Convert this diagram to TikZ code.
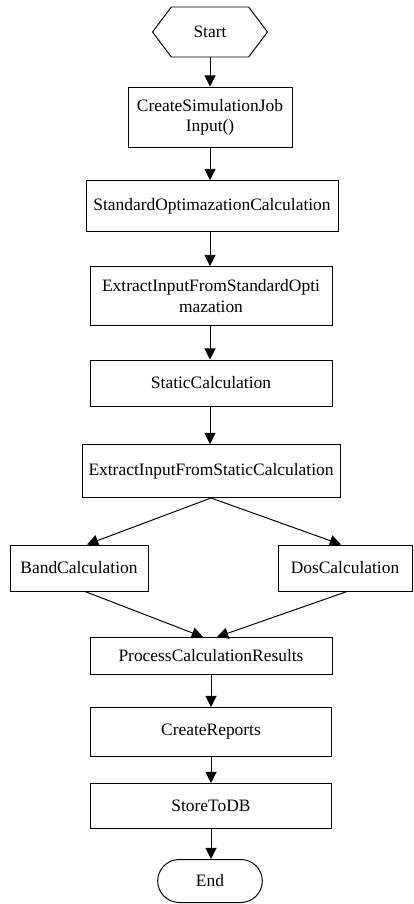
\documentclass[tikz,border=0pt]{standalone}
\usepackage{fontspec}
\setmainfont{Liberation Serif}
\usepackage{tikz}
\usetikzlibrary{shapes,shapes.misc,shapes.symbols,arrows.meta,positioning,calc}

\begin{document}
\begin{tikzpicture}[
        font=\fontsize{12.4}{14.5}\selectfont,
        line width=0.7pt,
        box/.style={draw, rectangle, align=center, inner sep=2pt},
        arr/.style={-{Triangle[width=8pt,length=8pt]}}
    ]
        \useasboundingbox (0,0) rectangle (10.325,-22.6);

        % Start and first steps
        \node[draw, signal, signal to=west and east, signal pointer angle=106,
              minimum width=2.875cm, minimum height=1.25cm] (start) at (5.25,-0.8) {Start};
        \node[box, minimum width=4.1cm, minimum height=1.5cm] (job) at (5.25,-2.925) {CreateSimulationJob\\Input()};
        \node[box, minimum width=6.3cm, minimum height=1.275cm] (stdopt) at (5.3,-5.15) {StandardOptimazationCalculation};
        \node[box, minimum width=6.05cm, minimum height=1.475cm] (extstd) at (5.275,-7.4) {ExtractInputFromStandardOpti\\mazation};
        \node[box, minimum width=6.05cm, minimum height=1.15cm] (static) at (5.275,-9.575) {StaticCalculation};
        \node[box, minimum width=6.45cm, minimum height=1.325cm] (extstatic) at (5.275,-11.775) {ExtractInputFromStaticCalculation};

        % Two branches
        \node[box, minimum width=3.45cm, minimum height=1.15cm] (band) at (1.975,-14.2) {BandCalculation};
        \node[box, minimum width=3.35cm, minimum height=1.15cm] (dos) at (8.625,-14.2) {DosCalculation};

        % Results and end
        \node[box, minimum width=6.05cm, minimum height=0.925cm] (process) at (5.275,-16.4) {ProcessCalculationResults};
        \node[box, minimum width=6.025cm, minimum height=1.225cm] (reports) at (5.275,-18.3) {CreateReports};
        \node[box, minimum width=6.025cm, minimum height=1.125cm] (store) at (5.275,-20.15) {StoreToDB};
        \node[draw, rounded rectangle, minimum width=2.85cm, minimum height=1.075cm] (end) at (5.25,-22.025) {End};

        % Arrows
        \draw[arr] (start.south) -- (start.south |- job.north);
        \draw[arr] (job.south) -- (job.south |- stdopt.north);
        \draw[arr] (job.south |- stdopt.south) -- (job.south |- extstd.north);
        \draw[arr] (job.south |- extstd.south) -- (job.south |- static.north);
        \draw[arr] (job.south |- static.south) -- (job.south |- extstatic.north);
        \draw[arr] (extstatic.south) -- ([xshift=0.2cm]band.north);
        \draw[arr] (extstatic.south) -- ([xshift=-0.1cm]dos.north);
        \draw[arr] ([xshift=0.15cm]band.south) -- ([xshift=-0.2cm]process.north);
        \draw[arr] ([xshift=0.05cm]dos.south) -- ([xshift=0.15cm]process.north);
        \draw[arr] (process.south) -- (reports.north);
        \draw[arr] (reports.south) -- (store.north);
        \draw[arr] (store.south) -- (store.south |- end.north);
    \end{tikzpicture}
\end{document}
